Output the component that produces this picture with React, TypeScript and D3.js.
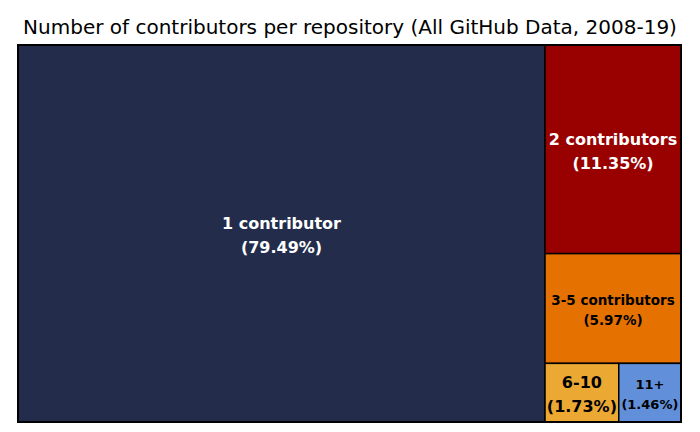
import React from "react";
import * as d3 from "d3";

const categories = ["1 contributor", "2 contributors", "3-5 contributors", "6-10", "11+"];
const shares = [79.49, 11.35, 5.97, 1.73, 1.46];
const colors = ["#232D4B", "#990000", "#E57200", "#EBA833", "#618FD9"];
const textColors = ["#ffffff", "#ffffff", "#000000", "#000000", "#000000"];
const fontSizes = [16, 16, 13.5, 16, 13];

const W = 700, H = 432;
const X0 = 18, Y0 = 45, X1 = 681, Y1 = 422;

export default function App() {
  const root = d3
    .hierarchy({ children: categories.map((c, i) => ({ name: c, value: shares[i], i })) } as any)
    .sum((d: any) => d.value || 0);
  d3.treemap().tile(d3.treemapSquarify).size([X1 - X0, Y1 - Y0]).round(false)(root as any);
  const leaves = root.leaves() as any[];
  return (
    <svg width={W} height={H} style={{ position: "absolute", left: 0, top: 0, fontFamily: "DejaVu Sans" }}>
      <rect width={W} height={H} fill="#fff" />
      <text x={350} y={34} textAnchor="middle" fontSize={20} fill="#000">
        Number of contributors per repository (All GitHub Data, 2008-19)
      </text>
      <g transform={`translate(${X0},${Y0})`}>
        {leaves.map((l) => {
          const i = l.data.i;
          const cx = (l.x0 + l.x1) / 2;
          const cy = (l.y0 + l.y1) / 2 + 1.5;
          const fs = fontSizes[i];
          const gap = fs * 1.5;
          return (
            <g key={i}>
              <rect x={l.x0} y={l.y0} width={l.x1 - l.x0} height={l.y1 - l.y0} fill={colors[i]} stroke="#000" strokeWidth={1.5} />
              <text x={cx} y={cy - gap / 2 + fs * 0.36} textAnchor="middle" fontSize={fs} fontWeight="bold" fill={textColors[i]}>
                {categories[i]}
              </text>
              <text x={cx} y={cy + gap / 2 + fs * 0.36} textAnchor="middle" fontSize={fs} fontWeight="bold" fill={textColors[i]}>
                ({shares[i].toFixed(2)}%)
              </text>
            </g>
          );
        })}
        <rect x={0} y={0} width={X1 - X0} height={Y1 - Y0} fill="none" stroke="#000" strokeWidth={2} />
      </g>
    </svg>
  );
}
